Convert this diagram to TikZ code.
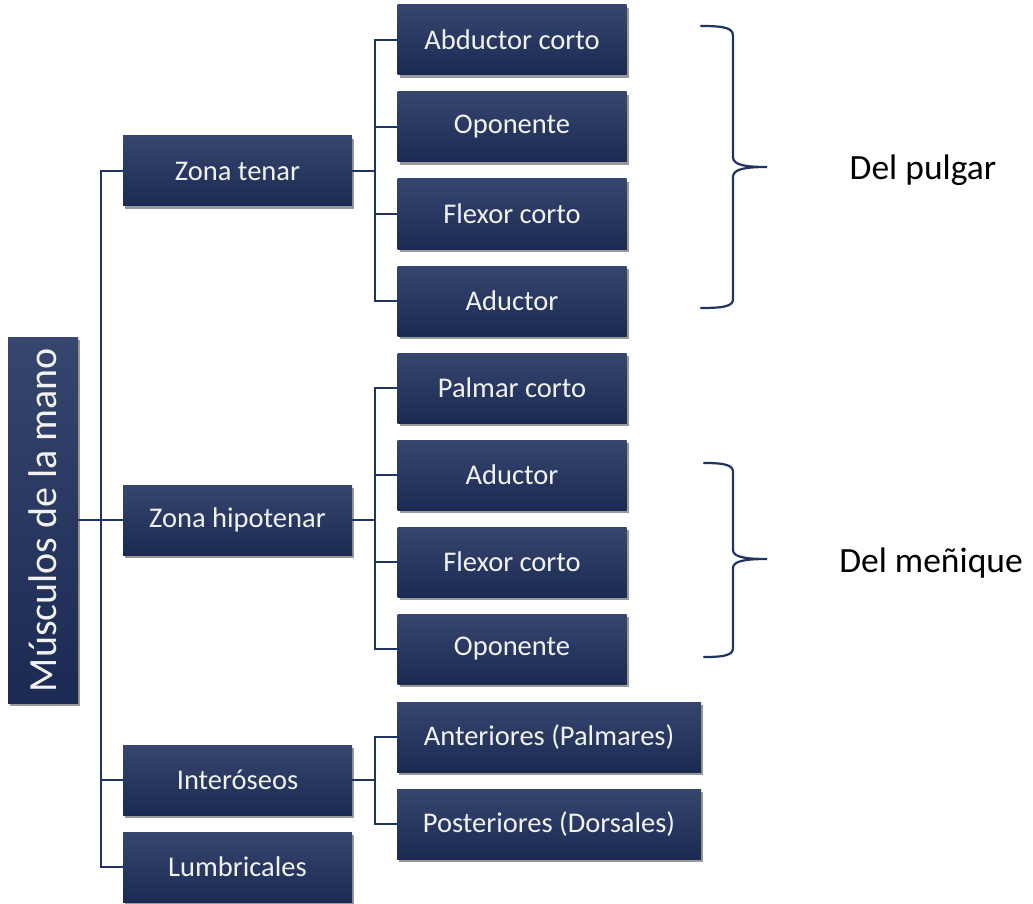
\documentclass[tikz,border=0pt]{standalone}
\usepackage{fontspec}
\setmainfont{Carlito}
\usetikzlibrary{shadows}
\definecolor{boxtop}{HTML}{36466F}
\definecolor{boxbot}{HTML}{1A2A52}
\definecolor{linec}{HTML}{1F3460}
\begin{document}
\begin{tikzpicture}[x=1pt,y=-1pt,
  box/.style={rectangle, inner sep=0pt, minimum width=229pt, minimum height=70pt,
    top color=boxtop, bottom color=boxbot, draw=none, text=white!95!black,
    font=\fontsize{28.5}{32}\selectfont,
    drop shadow={shadow xshift=2pt, shadow yshift=-3pt, opacity=0.4, fill=black}},
  widebox/.style={box, minimum width=304pt},
  conn/.style={draw=linec, line width=2pt},
  brace/.style={draw=linec, line width=2.2pt, line cap=round},
  lbl/.style={font=\fontsize{35.5}{40}\selectfont, text=black}]
\useasboundingbox (0,0) rectangle (1033,904);
% root
\node[box, minimum width=366pt, minimum height=70pt, rotate=90, font=\fontsize{40}{44}\selectfont] (root) at (43,520) {Músculos de la mano};
% level 2
\node[box] (tenar) at (237.5,171) {Zona tenar};
\node[box] (hipo) at (237.5,520) {Zona hipotenar};
\node[box] (inter) at (237.5,780) {Interóseos};
\node[box] (lumb) at (237.5,867) {Lumbricales};
% level 3
\node[box] (abd) at (512,40) {Abductor corto};
\node[box] (opo1) at (512,127) {Oponente};
\node[box] (flex1) at (512,214) {Flexor corto};
\node[box] (adu1) at (512,301) {Aductor};
\node[box] (palm) at (512,388) {Palmar corto};
\node[box] (adu2) at (512,475) {Aductor};
\node[box] (flex2) at (512,562) {Flexor corto};
\node[box] (opo2) at (512,649) {Oponente};
\node[widebox] (ant) at (549,737) {Anteriores (Palmares)};
\node[widebox] (post) at (549,824) {Posteriores (Dorsales)};
% connectors
\draw[conn] (root.south) -- (hipo.west);
\draw[conn] (tenar.west) -- ++(-22,0) |- (lumb.west);
\draw[conn] (inter.west) -- ++(-22,0);
\draw[conn] (tenar.east) -- ++(23,0);
\draw[conn] (abd.west) -- ++(-22,0) |- (adu1.west);
\draw[conn] (opo1.west) -- ++(-22,0);
\draw[conn] (flex1.west) -- ++(-22,0);
\draw[conn] (hipo.east) -- ++(23,0);
\draw[conn] (palm.west) -- ++(-22,0) |- (opo2.west);
\draw[conn] (adu2.west) -- ++(-22,0);
\draw[conn] (flex2.west) -- ++(-22,0);
\draw[conn] (inter.east) -- ++(23,0);
\draw[conn] (ant.west) -- ++(-22,0) |- (post.west);
% braces
\draw[brace] (701,26) .. controls (725,26) and (733,28) .. (733,36) -- (733,157)
  .. controls (733,165) and (745,167) .. (767,167)
  .. controls (745,167) and (733,169) .. (733,177) -- (733,299)
  .. controls (733,306) and (725,308) .. (701,308);
\draw[brace] (704,463) .. controls (725,463) and (733,465) .. (733,472) -- (733,550)
  .. controls (733,557) and (745,559) .. (767,559)
  .. controls (745,559) and (733,561) .. (733,568) -- (733,648)
  .. controls (733,655) and (725,657) .. (704,657);
\node[lbl] (pulgar) at (923,170) {Del pulgar};
\node[lbl] (menique) at (931,563) {Del meñique};
\end{tikzpicture}
\end{document}
